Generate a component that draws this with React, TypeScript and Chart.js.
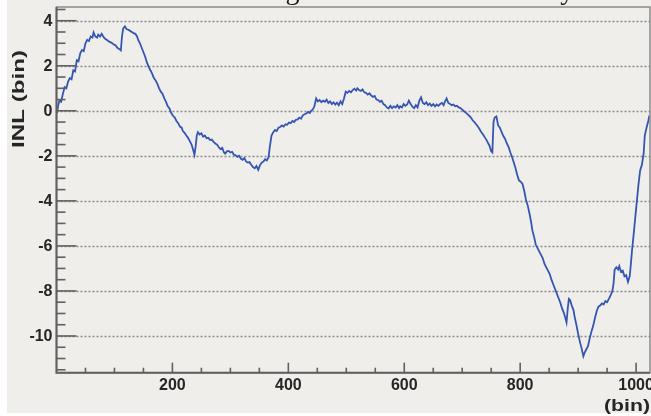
import { useEffect, useRef } from 'react';
import { Chart, registerables } from 'chart.js';

Chart.register(...registerables);

// Integral non-linearity per TDC bin
const bins = [
  1, 3, 5, 8, 11, 14, 17, 20, 23, 26,
  29, 32, 35, 38, 41, 44, 47, 50, 53, 56,
  59, 62, 64, 67, 70, 72, 75, 78, 81, 84,
  87, 90, 93, 96, 99, 102, 105, 108, 111, 113,
  115, 118, 121, 124, 127, 130, 133, 136, 139, 141,
  144, 147, 150, 153, 156, 159, 162, 165, 168, 171,
  174, 177, 180, 183, 186, 189, 192, 195, 198, 201,
  204, 207, 210, 213, 216, 218, 221, 224, 227, 230,
  233, 236, 238, 240, 242, 244, 247, 250, 253, 256,
  259, 262, 265, 268, 271, 274, 277, 280, 283, 286,
  289, 291, 294, 297, 300, 303, 306, 309, 312, 315,
  318, 321, 324, 327, 330, 333, 336, 339, 342, 345,
  348, 351, 354, 357, 360, 363, 366, 368, 371, 374,
  377, 380, 383, 386, 389, 392, 395, 398, 401, 404,
  407, 410, 413, 416, 419, 422, 425, 428, 431, 434,
  437, 440, 442, 445, 448, 451, 454, 457, 460, 463,
  466, 469, 472, 475, 478, 481, 484, 487, 490, 493,
  496, 499, 502, 505, 508, 511, 514, 517, 519, 522,
  525, 528, 531, 534, 537, 540, 543, 546, 549, 552,
  555, 558, 561, 564, 567, 570, 573, 576, 579, 582,
  585, 588, 591, 593, 596, 599, 602, 605, 608, 611,
  614, 617, 620, 623, 626, 629, 632, 635, 638, 641,
  644, 647, 650, 653, 656, 659, 662, 665, 668, 670,
  673, 676, 679, 682, 685, 688, 691, 694, 697, 700,
  703, 706, 709, 712, 715, 718, 721, 724, 727, 730,
  733, 736, 739, 742, 744, 747, 750, 752, 754, 756,
  759, 762, 765, 768, 771, 774, 777, 780, 783, 786,
  789, 792, 795, 798, 801, 804, 807, 810, 813, 816,
  819, 821, 824, 827, 830, 833, 836, 839, 842, 845,
  848, 851, 854, 857, 860, 863, 866, 869, 872, 875,
  878, 880, 882, 884, 886, 889, 892, 894, 897, 900,
  903, 906, 909, 911, 914, 917, 920, 923, 926, 929,
  932, 935, 938, 941, 944, 947, 950, 953, 956, 959,
  961, 963, 966, 969, 971, 974, 977, 980, 983, 986,
  989, 991, 993, 995, 998, 1001, 1004, 1007, 1010, 1013,
  1015, 1018, 1021, 1023,
];

const inl = [
  -0.1, 0.25, 0.45, 0.4, 0.75, 1.05, 1.0, 1.3, 1.45, 1.4,
  1.8, 1.75, 2.25, 2.2, 2.55, 2.7, 2.65, 3.0, 3.15, 3.1,
  3.3, 3.25, 3.48, 3.3, 3.25, 3.38, 3.3, 3.42, 3.28, 3.2,
  3.15, 3.08, 3.05, 3.0, 2.95, 2.9, 2.8, 2.75, 2.68, 3.3,
  3.65, 3.75, 3.62, 3.6, 3.55, 3.5, 3.45, 3.42, 3.3, 3.15,
  3.0, 2.8, 2.6, 2.4, 2.15, 1.95, 1.8, 1.65, 1.45, 1.35,
  1.2, 1.0, 0.85, 0.75, 0.55, 0.4, 0.2, 0.1, -0.1, -0.22,
  -0.3, -0.45, -0.55, -0.7, -0.75, -0.9, -0.98, -1.1, -1.2, -1.35,
  -1.5, -1.75, -1.95, -1.6, -1.1, -0.95, -1.05, -1.0, -1.15, -1.1,
  -1.22, -1.2, -1.3, -1.28, -1.38, -1.45, -1.5, -1.62, -1.7, -1.65,
  -1.85, -1.9, -1.8, -1.78, -1.85, -1.82, -1.95, -1.98, -2.05, -2.0,
  -2.12, -2.18, -2.1, -2.25, -2.3, -2.28, -2.4, -2.5, -2.55, -2.45,
  -2.62, -2.42, -2.3, -2.25, -2.15, -2.2, -2.05, -1.6, -1.1, -0.95,
  -0.85, -0.9, -0.75, -0.72, -0.65, -0.7, -0.6, -0.62, -0.52, -0.55,
  -0.45, -0.5, -0.4, -0.38, -0.3, -0.35, -0.2, -0.15, -0.12, -0.05,
  -0.1, 0.02, 0.05, 0.2, 0.55, 0.42, 0.48, 0.38, 0.45, 0.4,
  0.5, 0.35, 0.42, 0.3, 0.38, 0.28, 0.36, 0.25, 0.42, 0.3,
  0.55, 0.85, 0.8, 0.88, 0.82, 0.92, 0.98, 0.9, 1.0, 0.92,
  0.88, 0.95, 0.82, 0.8, 0.72, 0.78, 0.68, 0.62, 0.66, 0.5,
  0.48, 0.4, 0.45, 0.3, 0.25, 0.15, 0.1, 0.22, 0.12, 0.2,
  0.15, 0.25, 0.12, 0.2, 0.15, 0.3, 0.22, 0.28, 0.45, 0.3,
  0.18, 0.12, 0.25, 0.15, 0.45, 0.6, 0.35, 0.3, 0.38, 0.25,
  0.32, 0.22, 0.3, 0.2, 0.28, 0.22, 0.3, 0.35, 0.25, 0.4,
  0.55, 0.35, 0.3, 0.25, 0.28, 0.2, 0.22, 0.15, 0.12, 0.05,
  -0.02, -0.08, -0.15, -0.22, -0.3, -0.42, -0.5, -0.6, -0.7, -0.82,
  -0.95, -1.05, -1.18, -1.3, -1.4, -1.55, -1.8, -1.85, -0.5, -0.3,
  -0.25, -0.65, -0.75, -0.95, -1.12, -1.25, -1.45, -1.6, -1.85, -2.05,
  -2.3, -2.55, -2.85, -3.1, -3.15, -3.25, -3.55, -3.95, -4.2, -4.55,
  -4.95, -5.3, -5.6, -5.95, -6.1, -6.25, -6.4, -6.55, -6.8, -6.95,
  -7.1, -7.25, -7.5, -7.7, -7.9, -8.1, -8.3, -8.5, -8.75, -8.95,
  -9.2, -9.4, -8.8, -8.35, -8.4, -8.65, -8.85, -9.15, -9.5, -9.9,
  -10.25, -10.55, -10.9, -10.75, -10.6, -10.45, -10.1, -9.8, -9.55, -9.2,
  -8.9, -8.7, -8.65, -8.55, -8.6, -8.45, -8.5, -8.35, -8.2, -8.0,
  -7.7, -7.05, -6.95, -7.05, -6.9, -7.15, -7.1, -7.35, -7.3, -7.6,
  -7.35, -6.8, -6.2, -5.7, -4.9, -4.1, -3.3, -2.65, -2.4, -1.9,
  -1.1, -0.75, -0.45, -0.2,
];

const yTickLabels = [4, 2, 0, -2, -4, -6, -8, -10];
const xTickLabels = [200, 400, 600, 800, 1000];

const X_MIN = 0;
const X_MAX = 1024;
const Y_MIN = -11.63;
const Y_MAX = 4.61;

const PAGE_BG = '#efeeea';
const AXIS_COLOR = '#606060';
const LABEL_COLOR = '#262626';
const LINE_COLOR = 'rgb(52, 86, 178)';
const LABEL_FONT = 'bold 16px "Liberation Sans", Arial, sans-serif';

// Frame, inward ticks, dotted grid and bold labels in the style of a ROOT canvas
const rootFramePlugin = {
  id: 'rootFrame',
  beforeDraw(chart: any) {
    const { ctx, width, height } = chart;
    ctx.save();
    ctx.fillStyle = '#ffffff';
    ctx.fillRect(0, 0, width, height);
    ctx.fillStyle = PAGE_BG;
    ctx.fillRect(7, 0, width - 7, 413);
    ctx.restore();
  },
  beforeDatasetsDraw(chart: any) {
    const { ctx, chartArea: a, scales } = chart;
    const y = scales.y;
    ctx.save();
    ctx.strokeStyle = '#8a8a8a';
    ctx.lineWidth = 1.5;
    ctx.setLineDash([2, 2]);
    for (const v of yTickLabels) {
      const py = Math.round(y.getPixelForValue(v)) + 0.5;
      ctx.beginPath();
      ctx.moveTo(a.left, py);
      ctx.lineTo(a.right, py);
      ctx.stroke();
    }
    ctx.restore();
  },
  afterDatasetsDraw(chart: any) {
    const { ctx, chartArea: a, scales } = chart;
    const x = scales.x;
    const y = scales.y;
    ctx.save();

    // outer frame
    ctx.strokeStyle = '#8c8c8c';
    ctx.lineWidth = 1.5;
    ctx.strokeRect(a.left, a.top, a.right - a.left, a.bottom - a.top);

    // axis lines
    ctx.strokeStyle = AXIS_COLOR;
    ctx.lineWidth = 2;
    ctx.beginPath();
    ctx.moveTo(a.left, a.top);
    ctx.lineTo(a.left, a.bottom);
    ctx.lineTo(a.right, a.bottom);
    ctx.stroke();

    // y ticks: major every 2, minor every 0.5
    ctx.lineWidth = 1.6;
    for (let k = -23; k <= 9; k++) {
      const v = k * 0.5;
      if (v < Y_MIN || v > Y_MAX) continue;
      const major = k % 4 === 0;
      const py = y.getPixelForValue(v);
      ctx.beginPath();
      ctx.moveTo(a.left, py);
      ctx.lineTo(a.left + (major ? 20 : 9), py);
      ctx.stroke();
    }

    // x ticks: major every 200, minor every 50
    for (let k = 1; k * 50 <= X_MAX; k++) {
      const v = k * 50;
      const major = v % 200 === 0;
      const px = x.getPixelForValue(v);
      ctx.beginPath();
      ctx.moveTo(px, a.bottom);
      ctx.lineTo(px, a.bottom - (major ? 10 : 5));
      ctx.stroke();
    }

    // tick labels
    ctx.fillStyle = LABEL_COLOR;
    ctx.font = LABEL_FONT;
    ctx.textAlign = 'right';
    ctx.textBaseline = 'middle';
    for (const v of yTickLabels) {
      ctx.fillText(String(v), 52.5, y.getPixelForValue(v) + 0.5);
    }
    ctx.textAlign = 'center';
    for (const v of xTickLabels) {
      ctx.fillText(String(v), x.getPixelForValue(v), 385.5);
    }

    // y axis title, stretched along its length
    ctx.save();
    ctx.translate(19, 99);
    ctx.rotate(-Math.PI / 2);
    ctx.font = 'bold 17px "Liberation Sans", Arial, sans-serif';
    const yTitle = 'INL (bin)';
    const yw = ctx.measureText(yTitle).width;
    ctx.scale(98 / yw, 1);
    ctx.textAlign = 'center';
    ctx.textBaseline = 'middle';
    ctx.fillText(yTitle, 0, 0);
    ctx.restore();

    // x axis title at the right end
    ctx.save();
    ctx.font = 'bold 16px "Liberation Sans", Arial, sans-serif';
    const xTitle = '(bin)';
    const xw = ctx.measureText(xTitle).width;
    ctx.translate(650, 410.5);
    ctx.scale(46 / xw, 1);
    ctx.textAlign = 'right';
    ctx.textBaseline = 'alphabetic';
    ctx.fillText(xTitle, 0, 0);
    ctx.restore();

    ctx.restore();
  },
};

export default function App() {
  const canvasRef = useRef<HTMLCanvasElement>(null);

  useEffect(() => {
    const canvas = canvasRef.current;
    if (!canvas) return;
    const points = bins.map((b, i) => ({ x: b, y: inl[i] }));
    const chart = new Chart(canvas, {
      type: 'line',
      data: {
        datasets: [
          {
            data: points,
            borderColor: LINE_COLOR,
            borderWidth: 1.8,
            pointRadius: 0,
            tension: 0,
            fill: false,
          },
        ],
      },
      options: {
        responsive: false,
        animation: false,
        devicePixelRatio: 1,
        layout: { padding: { left: 0, right: 1, top: 7, bottom: 0 } },
        plugins: {
          legend: { display: false },
          tooltip: { enabled: false },
        },
        scales: {
          x: {
            type: 'linear',
            min: X_MIN,
            max: X_MAX,
            ticks: { display: false },
            grid: { display: false },
            border: { display: false },
            afterFit: (scale: any) => {
              scale.height = 43.3;
            },
          },
          y: {
            type: 'linear',
            min: Y_MIN,
            max: Y_MAX,
            ticks: { display: false },
            grid: { display: false },
            border: { display: false },
            afterFit: (scale: any) => {
              scale.width = 56.5;
            },
          },
        },
      },
      plugins: [rootFramePlugin],
    });
    return () => chart.destroy();
  }, []);

  return (
    <div
      style={{
        position: 'fixed',
        left: 0,
        top: 0,
        width: 651,
        height: 416,
        overflow: 'hidden',
        background: '#ffffff',
      }}
    >
      <canvas
        ref={canvasRef}
        width={651}
        height={416}
        style={{ display: 'block', width: 651, height: 416 }}
      />
      <div
        style={{
          position: 'absolute',
          left: 242,
          top: -24,
          font: '28px "Liberation Serif", serif',
          lineHeight: '28px',
          wordSpacing: '103px',
          whiteSpace: 'pre',
          color: '#1c1c1c',
        }}
      >
        Integral nonlinearity
      </div>
    </div>
  );
}
